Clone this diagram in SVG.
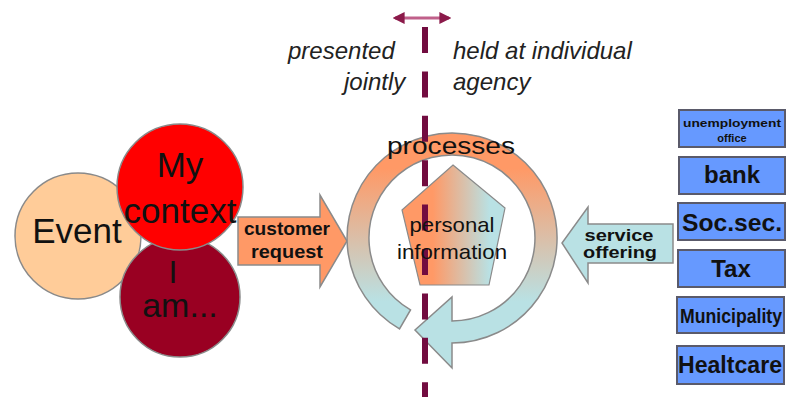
<svg xmlns="http://www.w3.org/2000/svg" width="787" height="397" viewBox="0 0 787 397">
<defs>
<style>
.lbl{font-family:"Liberation Sans",Arial,sans-serif;fill:#111;text-anchor:middle}
.b{font-weight:bold}
.it{font-family:"Liberation Sans",Arial,sans-serif;font-style:italic;fill:#222;font-size:24px}
.box{fill:#6699ff;stroke:#5a5a6a;stroke-width:2}
.circ{stroke:#8a8a8a;stroke-width:1.5}
</style>
<linearGradient id="ringG" gradientUnits="userSpaceOnUse" x1="0" y1="140" x2="0" y2="330">
<stop offset="0.15" stop-color="#ff9966"/>
<stop offset="0.85" stop-color="#b9e1e4"/>
</linearGradient>
<linearGradient id="pentG" gradientUnits="userSpaceOnUse" x1="402" y1="0" x2="505" y2="0">
<stop offset="0.3" stop-color="#ff9966"/>
<stop offset="0.85" stop-color="#b9e1e4"/>
</linearGradient>
<marker id="ah" viewBox="0 0 10 10" refX="8" refY="5" markerWidth="4" markerHeight="4" orient="auto-start-reverse">
<path d="M0,0 L10,5 L0,10 Z" fill="#8b1a4a"/>
</marker>
</defs>

<g id="event"><circle class="circ" cx="78" cy="236" r="63" fill="#ffcc99"/><text class="lbl" x="77" y="243" font-size="35">Event</text></g>
<g id="iam"><circle class="circ" cx="180" cy="297" r="60" fill="#990022"/><text class="lbl" x="173" y="283" font-size="32">I</text><text class="lbl" x="180" y="317" font-size="34">am...</text></g>
<g id="mycontext"><circle class="circ" cx="180" cy="187" r="63" fill="#ff0000"/><text class="lbl" x="180" y="177" font-size="35">My</text><text class="lbl" x="180" y="223" font-size="35">context</text></g>

<g id="customer-request">
<path d="M238,217 L320,217 L320,195 L347,241 L320,287 L320,265 L238,265 Z" fill="#ff9966" stroke="#8a8a8a" stroke-width="1.5"/>
<text class="lbl b" x="287" y="235" font-size="18" textLength="86" lengthAdjust="spacingAndGlyphs">customer</text>
<text class="lbl b" x="287" y="258" font-size="18" textLength="72" lengthAdjust="spacingAndGlyphs">request</text>
</g>

<g id="processes">
<path d="M399.5,328.9 A105,105 0 1 1 452,343 L452,368 L415,330 L452,297 L452,321 A83,83 0 1 0 410.5,309.9 Z" fill="url(#ringG)" stroke="#8a8a8a" stroke-width="1.5"/>
</g>

<g id="personal-information">
<path d="M453,165 L505,208 L489,285 L420,285 L402,210 Z" fill="url(#pentG)" stroke="#8a8a8a" stroke-width="1.2"/>
</g>

<g id="connectors">
<line x1="425" y1="27" x2="425" y2="397" stroke="#720c40" stroke-width="6" stroke-dasharray="26 18.4"/>
<line x1="395" y1="18" x2="449" y2="18" stroke="#c0608a" stroke-width="3" marker-start="url(#ah)" marker-end="url(#ah)"/>
</g>

<text class="lbl" x="451" y="154" font-size="24" fill="#222" textLength="128" lengthAdjust="spacingAndGlyphs">processes</text>
<text class="lbl" x="452" y="232" font-size="21" textLength="85" lengthAdjust="spacingAndGlyphs">personal</text>
<text class="lbl" x="452" y="259" font-size="21" textLength="110" lengthAdjust="spacingAndGlyphs">information</text>

<g id="service-offering">
<path d="M673,224 L588,224 L588,207 L562,243 L588,283 L588,263 L673,263 Z" fill="#b9e1e4" stroke="#8a8a8a" stroke-width="1.5"/>
<text class="lbl b" x="619" y="241" font-size="16" textLength="69" lengthAdjust="spacingAndGlyphs">service</text>
<text class="lbl b" x="620" y="258" font-size="16" textLength="74" lengthAdjust="spacingAndGlyphs">offering</text>
</g>

<g id="labels">
<text class="it" x="288" y="59">presented</text>
<text class="it" x="344" y="90">jointly</text>
<text class="it" x="453" y="59">held at individual</text>
<text class="it" x="453" y="90">agency</text>
</g>

<g id="unemployment"><rect class="box" x="679" y="110" width="106" height="37"/><text class="lbl b" x="732" y="127" font-size="11" textLength="98" lengthAdjust="spacingAndGlyphs">unemployment</text><text class="lbl b" x="732" y="142" font-size="11">office</text></g>
<g id="bank"><rect class="box" x="679" y="157" width="106" height="37"/><text class="lbl b" x="732" y="183" font-size="24">bank</text></g>
<g id="socsec"><rect class="box" x="678" y="203" width="107" height="37"/><text class="lbl b" x="732" y="231" font-size="24" textLength="100" lengthAdjust="spacingAndGlyphs">Soc.sec.</text></g>
<g id="tax"><rect class="box" x="678" y="250" width="107" height="37"/><text class="lbl b" x="731" y="277" font-size="24">Tax</text></g>
<g id="municipality"><rect class="box" x="677" y="297" width="107" height="36"/><text class="lbl b" x="731" y="323" font-size="20" textLength="102" lengthAdjust="spacingAndGlyphs">Municipality</text></g>
<g id="healthcare"><rect class="box" x="677" y="346" width="107" height="38"/><text class="lbl b" x="730" y="373" font-size="24" textLength="104" lengthAdjust="spacingAndGlyphs">Healtcare</text></g>
</svg>
